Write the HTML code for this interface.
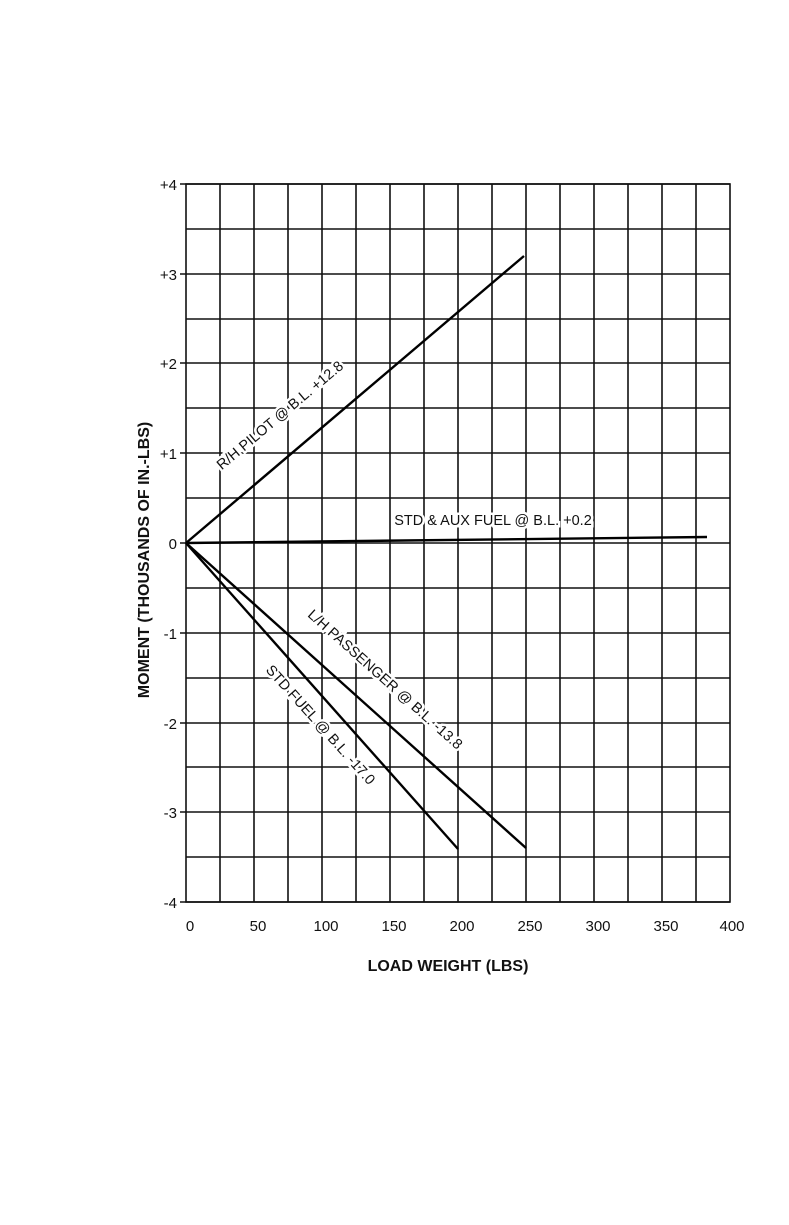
<!DOCTYPE html><html><head><style>body{margin:0;background:#fff}svg{display:block}</style></head><body>
<svg width="789" height="1225" xmlns="http://www.w3.org/2000/svg" font-family="Liberation Sans, sans-serif">
<g stroke="#111" stroke-width="1.6">
<rect x="186" y="184" width="544" height="718" fill="none"/>
<g>
<line x1="220" y1="184" x2="220" y2="902"/><line x1="254" y1="184" x2="254" y2="902"/><line x1="288" y1="184" x2="288" y2="902"/><line x1="322" y1="184" x2="322" y2="902"/><line x1="356" y1="184" x2="356" y2="902"/><line x1="390" y1="184" x2="390" y2="902"/><line x1="424" y1="184" x2="424" y2="902"/><line x1="458" y1="184" x2="458" y2="902"/><line x1="492" y1="184" x2="492" y2="902"/><line x1="526" y1="184" x2="526" y2="902"/><line x1="560" y1="184" x2="560" y2="902"/><line x1="594" y1="184" x2="594" y2="902"/><line x1="628" y1="184" x2="628" y2="902"/><line x1="662" y1="184" x2="662" y2="902"/><line x1="696" y1="184" x2="696" y2="902"/>
</g>
<g>
<line x1="180" y1="184" x2="730" y2="184"/>
<line x1="186" y1="229" x2="730" y2="229"/><line x1="180" y1="274" x2="730" y2="274"/><line x1="186" y1="319" x2="730" y2="319"/><line x1="180" y1="363" x2="730" y2="363"/><line x1="186" y1="408" x2="730" y2="408"/><line x1="180" y1="453" x2="730" y2="453"/><line x1="186" y1="498" x2="730" y2="498"/><line x1="180" y1="543" x2="730" y2="543"/><line x1="186" y1="588" x2="730" y2="588"/><line x1="180" y1="633" x2="730" y2="633"/><line x1="186" y1="678" x2="730" y2="678"/><line x1="180" y1="723" x2="730" y2="723"/><line x1="186" y1="767" x2="730" y2="767"/><line x1="180" y1="812" x2="730" y2="812"/><line x1="186" y1="857" x2="730" y2="857"/><line x1="180" y1="902" x2="730" y2="902"/>
</g>
</g>
<g stroke="#000" stroke-width="2.4" fill="none">
<line x1="186" y1="543" x2="524" y2="256"/>
<line x1="186" y1="543" x2="707" y2="537"/>
<line x1="186" y1="543" x2="526" y2="848"/>
<line x1="186" y1="543" x2="458" y2="849"/>
</g>
<g font-size="14.5" fill="#111" stroke="#fff" stroke-width="5" paint-order="stroke" text-anchor="middle">
<text transform="translate(283,419) rotate(-40)">R/H PILOT @ B.L. +12.8</text>
<text x="493" y="525">STD &amp; AUX FUEL @ B.L. +0.2</text>
<text transform="translate(382,683) rotate(41.8)">L/H PASSENGER @ B.L. -13.8</text>
<text transform="translate(317,728) rotate(48)">STD FUEL @ B.L. -17.0</text>
</g>
<g font-size="15" fill="#111" text-anchor="end">
<text x="177" y="190">+4</text><text x="177" y="280">+3</text><text x="177" y="369">+2</text><text x="177" y="459">+1</text><text x="177" y="549">0</text><text x="177" y="639">-1</text><text x="177" y="729">-2</text><text x="177" y="818">-3</text><text x="177" y="908">-4</text>
</g>
<g font-size="15" fill="#111" text-anchor="middle">
<text x="190" y="931">0</text><text x="258" y="931">50</text><text x="326" y="931">100</text><text x="394" y="931">150</text><text x="462" y="931">200</text><text x="530" y="931">250</text><text x="598" y="931">300</text><text x="666" y="931">350</text><text x="732" y="931">400</text>
</g>
<text x="448" y="971" font-size="16" font-weight="bold" text-anchor="middle" fill="#111">LOAD WEIGHT (LBS)</text>
<text transform="translate(149,560) rotate(-90)" font-size="16" font-weight="bold" text-anchor="middle" fill="#111">MOMENT (THOUSANDS OF IN.-LBS)</text>
</svg></body></html>
